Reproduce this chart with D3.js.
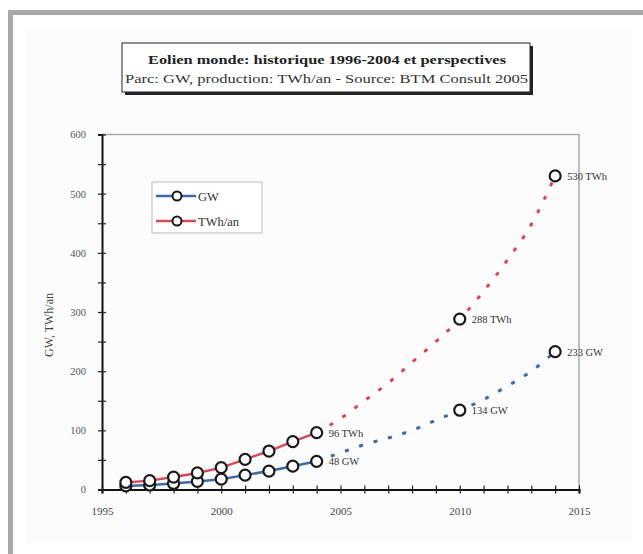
<!DOCTYPE html>
<html><head><meta charset="utf-8">
<script src="https://cdn.jsdelivr.net/npm/d3@7"></script>
<style>body{margin:0;background:#fff;}svg{display:block;}</style>
</head><body>
<svg id="c" width="643" height="554"></svg>
<script>
const histYears = [1996,1997,1998,1999,2000,2001,2002,2003,2004];
const gwHist   = [6.1,7.6,10.2,13.6,17.4,24.3,31.1,39.4,47.6];
const twhHist  = [12,15,21,28,37,51,65,81,96];
const projYears = [2004,2005,2006,2007,2008,2009,2010,2011,2012,2013,2014];
const gwProj   = [48,62,76,87,100,117,134,152,175,200,233];
const twhProj  = [96,120,150,180,215,250,288,335,388,448,530];
const keyYears = [2010,2014];
const gwKey    = [134,233];
const twhKey   = [288,530];
const labels = [
  {year:2004, value:96, text:"96 TWh"},
  {year:2004, value:48, text:"48 GW"},
  {year:2010, value:288, text:"288 TWh"},
  {year:2010, value:134, text:"134 GW"},
  {year:2014, value:530, text:"530 TWh"},
  {year:2014, value:233, text:"233 GW"}
];
const xTicks = [1995,2000,2005,2010,2015];
const yTicks = [0,100,200,300,400,500,600];
const titleLines = ["Eolien monde: historique 1996-2004 et perspectives","Parc: GW, production: TWh/an - Source: BTM Consult 2005"];
const yLabel = "GW, TWh/an";
const seriesNames = ["GW","TWh/an"];

const BLUE = "#3d6aa6", RED = "#d9475a";
const svg = d3.select("#c");
const serif = "'Liberation Serif','DejaVu Serif',serif";

// frame
svg.append("rect").attr("x",0).attr("y",0).attr("width",643).attr("height",554).attr("fill","#fff");
svg.append("rect").attr("x",8).attr("y",10).attr("width",635).attr("height",5).attr("fill","#a9a9ab");
svg.append("rect").attr("x",8).attr("y",10).attr("width",5).attr("height",544).attr("fill","#a9a9ab");
svg.append("rect").attr("x",25).attr("y",28).attr("width",607).attr("height",515).attr("fill","#fcfcfc");

// title box
svg.append("rect").attr("x",125).attr("y",46).attr("width",408).attr("height",49).attr("fill","#222");
svg.append("rect").attr("x",122).attr("y",43).attr("width",408).attr("height",49).attr("fill","#fff").attr("stroke","#222").attr("stroke-width",1);
svg.append("text").attr("x",148).attr("y",64).attr("font-family",serif)
  .attr("font-size",13).attr("font-weight","bold").attr("fill","#222")
  .attr("textLength",358).attr("lengthAdjust","spacingAndGlyphs").text(titleLines[0]);
svg.append("text").attr("x",125).attr("y",83).attr("font-family",serif)
  .attr("font-size",12.5).attr("fill","#333")
  .attr("textLength",403).attr("lengthAdjust","spacingAndGlyphs").text(titleLines[1]);

const x = d3.scaleLinear().domain([1995,2015]).range([102,579]);
const y = d3.scaleLinear().domain([0,600]).range([489.5,134.5]);

// plot frame (top & right)
svg.append("path").attr("d",`M${x(1995)},${y(600)}H${x(2015)}V${y(0)}`).attr("fill","none").attr("stroke","#aaa").attr("stroke-width",1.5);

// axes
const gx = svg.append("g").attr("transform",`translate(0,${y(0)})`);
gx.call(d3.axisBottom(x).tickValues(d3.range(1995,2016,1)).tickSize(4).tickFormat(""));
gx.selectAll(".tick line").attr("y1",-4).attr("stroke","#222").attr("stroke-width",1.2);
gx.select(".domain").attr("stroke","#111").attr("stroke-width",2.2);
const gx2 = svg.append("g").attr("transform",`translate(0,${y(0)+15})`);
gx2.call(d3.axisBottom(x).tickValues(xTicks).tickSize(0).tickFormat(d3.format("d")));
gx2.select(".domain").remove();
gx2.selectAll("text").attr("font-family",serif).attr("font-size",11).attr("fill","#444");

const gy = svg.append("g").attr("transform",`translate(${x(1995)},0)`);
gy.call(d3.axisLeft(y).tickValues(d3.range(0,601,50)).tickSize(4).tickFormat(""));
gy.selectAll(".tick line").attr("x1",4).attr("stroke","#222").attr("stroke-width",1.2);
gy.select(".domain").attr("stroke","#111").attr("stroke-width",2);
const gy2 = svg.append("g").attr("transform",`translate(${x(1995)-13},0)`);
gy2.call(d3.axisLeft(y).tickValues(yTicks).tickSize(0).tickFormat(d3.format("d")));
gy2.select(".domain").remove();
gy2.selectAll("text").attr("font-family",serif).attr("font-size",10.5).attr("fill","#555");

svg.append("text").attr("transform",`translate(53,325) rotate(-90)`).attr("text-anchor","middle")
  .attr("font-family",serif).attr("font-size",12).attr("fill","#444").text(yLabel);

// projection dashed lines
const line = d3.line().x(d=>x(d[0])).y(d=>y(d[1])).curve(d3.curveMonotoneX);
svg.append("path").datum(projYears.map((yr,i)=>[yr,twhProj[i]])).attr("d",line)
  .attr("fill","none").attr("stroke",RED).attr("stroke-width",3).attr("stroke-dasharray","4,11");
svg.append("path").datum(projYears.map((yr,i)=>[yr,gwProj[i]])).attr("d",line)
  .attr("fill","none").attr("stroke",BLUE).attr("stroke-width",3).attr("stroke-dasharray","4,11");

// historical lines
const lin = d3.line().x(d=>x(d[0])).y(d=>y(d[1]));
svg.append("path").datum(histYears.map((yr,i)=>[yr,twhHist[i]])).attr("d",lin)
  .attr("fill","none").attr("stroke",RED).attr("stroke-width",2.5);
svg.append("path").datum(histYears.map((yr,i)=>[yr,gwHist[i]])).attr("d",lin)
  .attr("fill","none").attr("stroke",BLUE).attr("stroke-width",2.5);

function markers(xs, vs, r){
  svg.append("g").selectAll("circle").data(xs.map((yr,i)=>[yr,vs[i]])).join("circle")
    .attr("cx",d=>x(d[0])).attr("cy",d=>y(d[1])).attr("r",r)
    .attr("fill","#fff").attr("stroke","#1a1a1a").attr("stroke-width",2.2);
}
markers(histYears, gwHist, 5.5);
markers(histYears, twhHist, 5.5);
markers(keyYears, gwKey, 5.5);
markers(keyYears, twhKey, 5.5);

svg.append("g").selectAll("text").data(labels).join("text")
  .attr("x",d=>x(d.year)+12).attr("y",d=>y(d.value)+4)
  .attr("font-family",serif).attr("font-size",10.5).attr("fill","#333").text(d=>d.text);

// legend
const lg = svg.append("g");
lg.append("rect").attr("x",152).attr("y",182).attr("width",110).attr("height",51)
  .attr("fill","#fff").attr("stroke","#bbb").attr("stroke-width",1);
[BLUE,RED].forEach((c,i)=>{
  const yy = 196 + i*25;
  lg.append("line").attr("x1",156).attr("x2",196).attr("y1",yy).attr("y2",yy).attr("stroke",c).attr("stroke-width",2.5);
  lg.append("circle").attr("cx",177).attr("cy",yy).attr("r",4.5).attr("fill","#fff").attr("stroke","#1a1a1a").attr("stroke-width",2);
  lg.append("text").attr("x",198).attr("y",yy+4.5).attr("font-family",serif).attr("font-size",12.5).attr("fill","#333").text(seriesNames[i]);
});
</script>
</body></html>
